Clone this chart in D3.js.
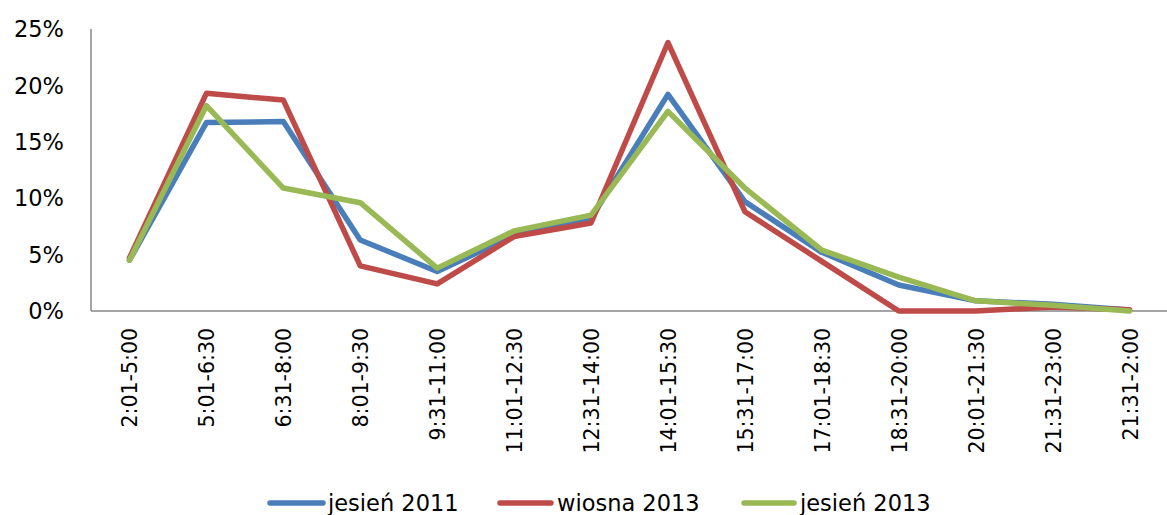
<!DOCTYPE html>
<html><head><meta charset="utf-8">
<script src="https://cdn.jsdelivr.net/npm/d3@7"></script>
<style>body{margin:0;background:#fff}svg{display:block}text{font-family:"DejaVu Sans",Verdana,sans-serif;fill:#000}</style>
</head><body><svg id="c" width="1167" height="515"></svg>
<script>
const categories = ["2:01-5:00","5:01-6:30","6:31-8:00","8:01-9:30","9:31-11:00","11:01-12:30","12:31-14:00","14:01-15:30","15:31-17:00","17:01-18:30","18:31-20:00","20:01-21:30","21:31-23:00","21:31-2:00"];
const jesien2011 = [4.5,16.7,16.8,6.3,3.5,6.7,8.2,19.2,9.7,5.2,2.3,0.9,0.6,0.1];
const wiosna2013 = [4.7,19.3,18.7,4.0,2.4,6.6,7.8,23.8,8.8,4.4,0.0,0.0,0.35,0.1];
const jesien2013 = [4.5,18.2,10.9,9.6,3.8,7.1,8.5,17.7,10.9,5.4,3.0,0.9,0.5,0.0];
const yTicks = [0,5,10,15,20,25];
const seriesNames = ["jesień 2011","wiosna 2013","jesień 2013"];
const colors = ["#4a7ebb","#be4b48","#98b954"];
const series = [jesien2011, wiosna2013, jesien2013];

(function(){
const svg = d3.select("#c");
const mL = 91, mR = 1168, mT = 29, mB = 311;
const x = d3.scaleBand().domain(categories).range([mL, mR]);
const y = d3.scaleLinear().domain([0,25]).range([mB, mT]);

svg.append("line").attr("x1",mL).attr("x2",mL).attr("y1",mT).attr("y2",mB).attr("stroke","#868686").attr("stroke-width",1.5);
svg.append("line").attr("x1",mL).attr("x2",1167).attr("y1",mB).attr("y2",mB).attr("stroke","#868686").attr("stroke-width",1.5);
svg.selectAll("text.yt").data(yTicks).enter().append("text").attr("class","yt")
  .attr("x",64).attr("y",d=>y(d)).attr("dy","0.36em").attr("text-anchor","end")
  .style("font-size","22.5px").text(d=>d+"%");

svg.selectAll("text.xt").data(categories).enter().append("text").attr("class","xt")
  .attr("transform",d=>`translate(${x(d)+x.bandwidth()/2+8},328) rotate(-90)`)
  .attr("text-anchor","end").style("font-size","20.5px").text(d=>d);

const line = d3.line().x((d,i)=>x(categories[i])+x.bandwidth()/2).y(d=>y(d));
series.forEach((s,k)=>{
  svg.append("path").datum(s).attr("d",line).attr("fill","none")
    .attr("stroke",colors[k]).attr("stroke-width",5.5).attr("stroke-linejoin","round").attr("stroke-linecap","round");
});

const legLine = [[270,323],[500,551],[744,794]];
const legText = [328,557,800];
seriesNames.forEach((n,k)=>{
  svg.append("line").attr("x1",legLine[k][0]).attr("x2",legLine[k][1]).attr("y1",503).attr("y2",503)
    .attr("stroke",colors[k]).attr("stroke-width",5.5).attr("stroke-linecap","round");
  svg.append("text").attr("x",legText[k]).attr("y",503).attr("dy","0.36em").style("font-size","22.5px").text(n);
});
})();
</script></body></html>
